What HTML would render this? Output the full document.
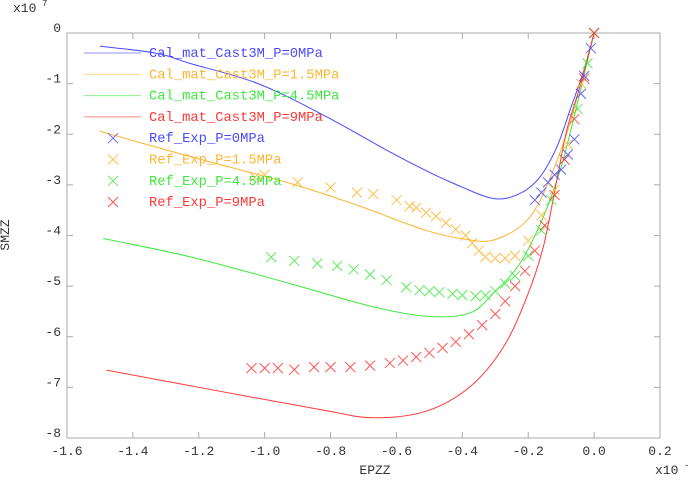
<!DOCTYPE html>
<html><head><meta charset="utf-8"><style>
body{margin:0;background:#fff}
svg text{font-family:"Liberation Mono",monospace;font-size:13px;fill:#333}
</style></head><body>
<svg id="c" width="690" height="478" xmlns="http://www.w3.org/2000/svg"></svg>
<script>
const xTicks=[-1.6,-1.4,-1.2,-1.0,-0.8,-0.6,-0.4,-0.2,0.0,0.2];
const yTicks=[0,-1,-2,-3,-4,-5,-6,-7,-8];
const seriesNames=["Cal_mat_Cast3M_P=0MPa","Cal_mat_Cast3M_P=1.5MPa","Cal_mat_Cast3M_P=4.5MPa","Cal_mat_Cast3M_P=9MPa","Ref_Exp_P=0MPa","Ref_Exp_P=1.5MPa","Ref_Exp_P=4.5MPa","Ref_Exp_P=9MPa"];
const colors=["#4a4aff","#ffb52e","#3ee83e","#ff3838"];
const calc0=[[-1.5,-0.26],[-1.328,-0.4],[-1.227,-0.6],[-1.024,-0.99],[-0.822,-1.62],[-0.62,-2.35],[-0.51,-2.72],[-0.427,-2.97],[-0.306,-3.27],[-0.225,-3.17],[-0.164,-2.84],[-0.113,-2.25],[-0.073,-1.52],[-0.033,-0.77],[0,0]];
const calc1=[[-1.5,-1.94],[-1.227,-2.44],[-0.923,-2.97],[-0.72,-3.4],[-0.51,-3.9],[-0.377,-4.09],[-0.306,-4.09],[-0.225,-3.83],[-0.174,-3.43],[-0.124,-2.71],[-0.073,-1.78],[-0.033,-0.8],[0,0]];
const calc2=[[-1.49,-4.06],[-1.227,-4.42],[-0.923,-4.95],[-0.67,-5.41],[-0.5,-5.6],[-0.377,-5.53],[-0.306,-5.14],[-0.225,-4.55],[-0.154,-3.63],[-0.103,-2.71],[-0.063,-1.72],[-0.022,-0.6],[0,0]];
const calc3=[[-1.48,-6.66],[-1.125,-7.09],[-0.822,-7.45],[-0.67,-7.6],[-0.51,-7.47],[-0.377,-6.99],[-0.275,-6.2],[-0.204,-5.21],[-0.154,-4.22],[-0.113,-2.9],[-0.083,-1.92],[-0.043,-1.06],[0,0]];
const exp0=[[-0.18,-3.3],[-0.16,-3.15],[-0.14,-2.95],[-0.12,-2.8],[-0.1,-2.7],[-0.08,-2.4],[-0.06,-2.1],[-0.04,-1.2],[-0.03,-0.85],[-0.01,-0.3],[0,0]];
const exp1=[[-1.03,-2.85],[-1.0,-2.8],[-0.9,-2.95],[-0.8,-3.05],[-0.72,-3.15],[-0.67,-3.18],[-0.6,-3.3],[-0.56,-3.42],[-0.54,-3.45],[-0.51,-3.55],[-0.48,-3.62],[-0.45,-3.75],[-0.42,-3.88],[-0.39,-4.0],[-0.37,-4.15],[-0.35,-4.3],[-0.33,-4.42],[-0.3,-4.45],[-0.27,-4.45],[-0.24,-4.4],[-0.2,-4.1],[-0.16,-3.6],[-0.12,-3.1],[-0.08,-2.2],[-0.04,-1.0],[0,0]];
const exp2=[[-0.98,-4.43],[-0.91,-4.5],[-0.84,-4.55],[-0.78,-4.6],[-0.73,-4.67],[-0.68,-4.77],[-0.63,-4.88],[-0.57,-5.02],[-0.53,-5.08],[-0.5,-5.1],[-0.47,-5.12],[-0.43,-5.15],[-0.4,-5.18],[-0.36,-5.2],[-0.33,-5.18],[-0.3,-5.1],[-0.27,-4.95],[-0.24,-4.8],[-0.2,-4.4],[-0.16,-3.9],[-0.13,-3.3],[-0.09,-2.5],[-0.05,-1.5],[-0.02,-0.6],[0,0]];
const exp3=[[-1.04,-6.62],[-1.0,-6.62],[-0.96,-6.62],[-0.91,-6.65],[-0.85,-6.6],[-0.8,-6.6],[-0.74,-6.6],[-0.68,-6.57],[-0.62,-6.52],[-0.58,-6.47],[-0.54,-6.4],[-0.5,-6.32],[-0.46,-6.22],[-0.42,-6.1],[-0.38,-5.95],[-0.34,-5.77],[-0.3,-5.55],[-0.27,-5.3],[-0.24,-5.0],[-0.21,-4.7],[-0.18,-4.3],[-0.15,-3.8],[-0.12,-3.2],[-0.09,-2.5],[-0.06,-1.7],[-0.03,-0.9],[0,0]];

const L=67,R=660,T=33,B=438,NS="http://www.w3.org/2000/svg";
const sx=v=>L+(v+1.6)/1.8*(R-L);
const sy=v=>T+(0-v)/8*(B-T);
const svg=document.getElementById('c');
function mk(tag,a,txt){const e=document.createElementNS(NS,tag);for(const k in a)e.setAttribute(k,a[k]);if(txt!==undefined)e.textContent=txt;svg.appendChild(e);return e;}
let f=mk('rect',{x:L,y:T,width:R-L,height:B-T,fill:'none',stroke:'#aaa'});

xTicks.forEach(t=>{const x=sx(t);
 mk('line',{x1:x,y1:B,x2:x,y2:B-6,stroke:'#aaa'});mk('line',{x1:x,y1:T,x2:x,y2:T+6,stroke:'#aaa'});
 let e=mk('text',{x:x,y:B+17,'text-anchor':'middle'},t.toFixed(1));
 });
yTicks.forEach(t=>{const y=sy(t);
 mk('line',{x1:L,y1:y,x2:L+6,y2:y,stroke:'#aaa'});mk('line',{x1:R,y1:y,x2:R-6,y2:y,stroke:'#aaa'});
 let e=mk('text',{x:L-6,y:y-1,'text-anchor':'end'},String(t));
 });
function smooth(d){const p=d.map(q=>[sx(q[0]),sy(q[1])]);let s=`M${p[0][0]},${p[0][1]}`;
 for(let i=0;i<p.length-1;i++){const p0=p[i-1]||p[i],p1=p[i],p2=p[i+1],p3=p[i+2]||p2;
  s+=`C${p1[0]+(p2[0]-p0[0])/6},${p1[1]+(p2[1]-p0[1])/6} ${p2[0]-(p3[0]-p1[0])/6},${p2[1]-(p3[1]-p1[1])/6} ${p2[0]},${p2[1]}`;}
 return s;}
const calcs=[calc0,calc1,calc2,calc3],exps=[exp0,exp1,exp2,exp3];
calcs.forEach((d,i)=>{let e=mk('path',{d:smooth(d),fill:'none',stroke:colors[i],'stroke-width':1});
 });
function cross(x,y,c){mk('path',{d:`M${x-5},${y-5}L${x+5},${y+5}M${x-5},${y+5}L${x+5},${y-5}`,stroke:c,'stroke-width':1,fill:'none','stroke-opacity':0.85});}
exps.forEach((d,i)=>d.forEach(p=>cross(sx(p[0]),sy(p[1]),colors[i])));
seriesNames.forEach((n,i)=>{const y=53+i*21.3,c=colors[i%4];
 if(i<4)mk('line',{x1:84,y1:y,x2:141,y2:y,stroke:c,'stroke-opacity':0.6});else cross(113,y,c);
 let e=mk('text',{x:149,y:y+4,style:'fill:'+c+';font-size:13.8px'},n);
 });
let a=mk('text',{x:375,y:474,'text-anchor':'middle'},'EPZZ');
let b=mk('text',{x:9,y:235,'text-anchor':'middle',transform:'rotate(-90 9 235)'},'SMZZ');
let c1=mk('text',{x:13,y:12},'x10');
mk('text',{x:42,y:6,style:'font-size:9px'},'7');
let c2=mk('text',{x:655,y:474},'x10');
mk('text',{x:684,y:468,style:'font-size:9px'},'-2');
</script>
</body></html>
